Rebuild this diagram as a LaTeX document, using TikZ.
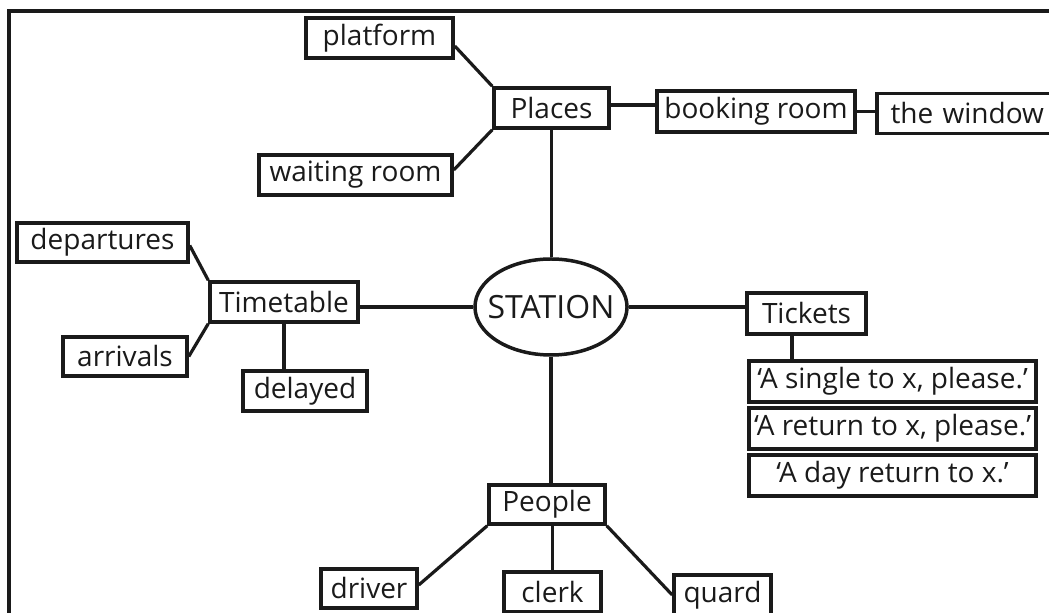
\documentclass[tikz,border=0pt]{standalone}
\usepackage{fontspec}
\setmainfont{Open Sans}
\usetikzlibrary{shapes.geometric}
\definecolor{ink}{HTML}{1A1A1A}
\tikzset{
  box/.style={draw=ink, line width=1.75pt, rectangle, minimum height=20pt, inner sep=0pt, text=ink, font=\fontsize{14}{16}\selectfont},
  conn/.style={draw=ink, line width=1.6pt},
}
\begin{document}
\begin{tikzpicture}[x=0.5pt, y=-0.5pt]
\useasboundingbox (0,0) rectangle (1049,613);
\clip (0,0) rectangle (1049,613);
\fill[white] (0,0) rectangle (1049,613);
\coordinate (fbl) at (9,640);
\coordinate (ftl) at (9,11);
\coordinate (ftr) at (1080,11);
\draw[ink, line width=1.6pt] (fbl) -- (ftl) -- (ftr);

% nodes
\node[box, minimum width=73.5pt] (platform) at (379.5,38) {platform};
\node[box, minimum width=96.5pt] (waiting) at (355.5,175) {waiting room};
\node[box, minimum width=57.5pt] (places) at (551.5,108) {Places};
\node[box, minimum width=99pt, minimum height=20.5pt] (booking) at (756,111.5) {booking room};
\node[box, minimum width=91.5pt, text width=86pt, align=left] (window) at (968.5,113.5) {\hspace{4pt}the window};
\node[box, minimum width=85.5pt, minimum height=19.5pt] (departures) at (102.5,242.5) {departures};
\node[box, minimum width=74pt] (timetable) at (284,302) {Timetable};
\node[box, minimum width=62pt, minimum height=19.5pt] (arrivals) at (125,356.5) {arrivals};
\node[box, minimum width=62pt] (delayed) at (305,391) {delayed};
\node[draw=ink, line width=1.75pt, ellipse, minimum width=73pt, minimum height=48pt, inner xsep=-4.8pt, inner ysep=0pt, text=ink, font=\fontsize{16}{18}\selectfont] (station) at (551,307) {STATION};
\node[box, minimum width=59.5pt, minimum height=20.5pt] (tickets) at (806.5,313.5) {Tickets};
\node[box, minimum width=143.5pt, minimum height=20.5pt] (single) at (892.5,381.5) {‘A single to x, please.’};
\node[box, minimum width=143.5pt, minimum height=20.5pt] (return) at (892.5,428.5) {‘A return to x, please.’};
\node[box, minimum width=143.5pt, minimum height=20.5pt] (day) at (892.5,475.5) {‘A day return to x.’};
\node[box, minimum width=58pt, minimum height=19.5pt] (people) at (547,504.5) {People};
\node[box, minimum width=48pt, minimum height=19.5pt] (driver) at (369,588.5) {driver};
\node[box, minimum width=48.5pt] (clerk) at (552.5,592) {clerk};
\node[box, minimum width=48.5pt] (quard) at (722.5,595) {quard};

% connectors
\draw[conn] ([yshift=-4pt]platform.east) -- (places.north west);
\draw[conn] ([yshift=2.5pt]waiting.east) -- (places.south west);
\draw[conn] ([yshift=1.5pt]places.east) -- ([yshift=1.5pt]places.east -| booking.west);
\draw[conn] (booking.east) -- (booking.east -| window.west);
\draw[conn] (places.south) -- (places.south |- station.north);
\draw[conn] ([yshift=-1.5pt]departures.east) -- (timetable.north west);
\draw[conn] (arrivals.east) -- (timetable.south west);
\draw[conn] (timetable.south) -- (timetable.south |- delayed.north);
\draw[conn] (station.west) -- (station.west -| timetable.east);
\draw[conn] (station.east) -- (station.east -| tickets.west);
\draw[conn] ([xshift=-7.25pt]tickets.south) -- ([xshift=-7.25pt]tickets.south |- single.north);
\draw[conn] (station.south) -- (station.south |- people.north);
\draw[conn] (people.south west) -- ([yshift=1.75pt]driver.east);
\draw[conn] (clerk.north) -- (clerk.north |- people.south);
\draw[conn] (people.south east) -- (quard.west);
\end{tikzpicture}
\end{document}
